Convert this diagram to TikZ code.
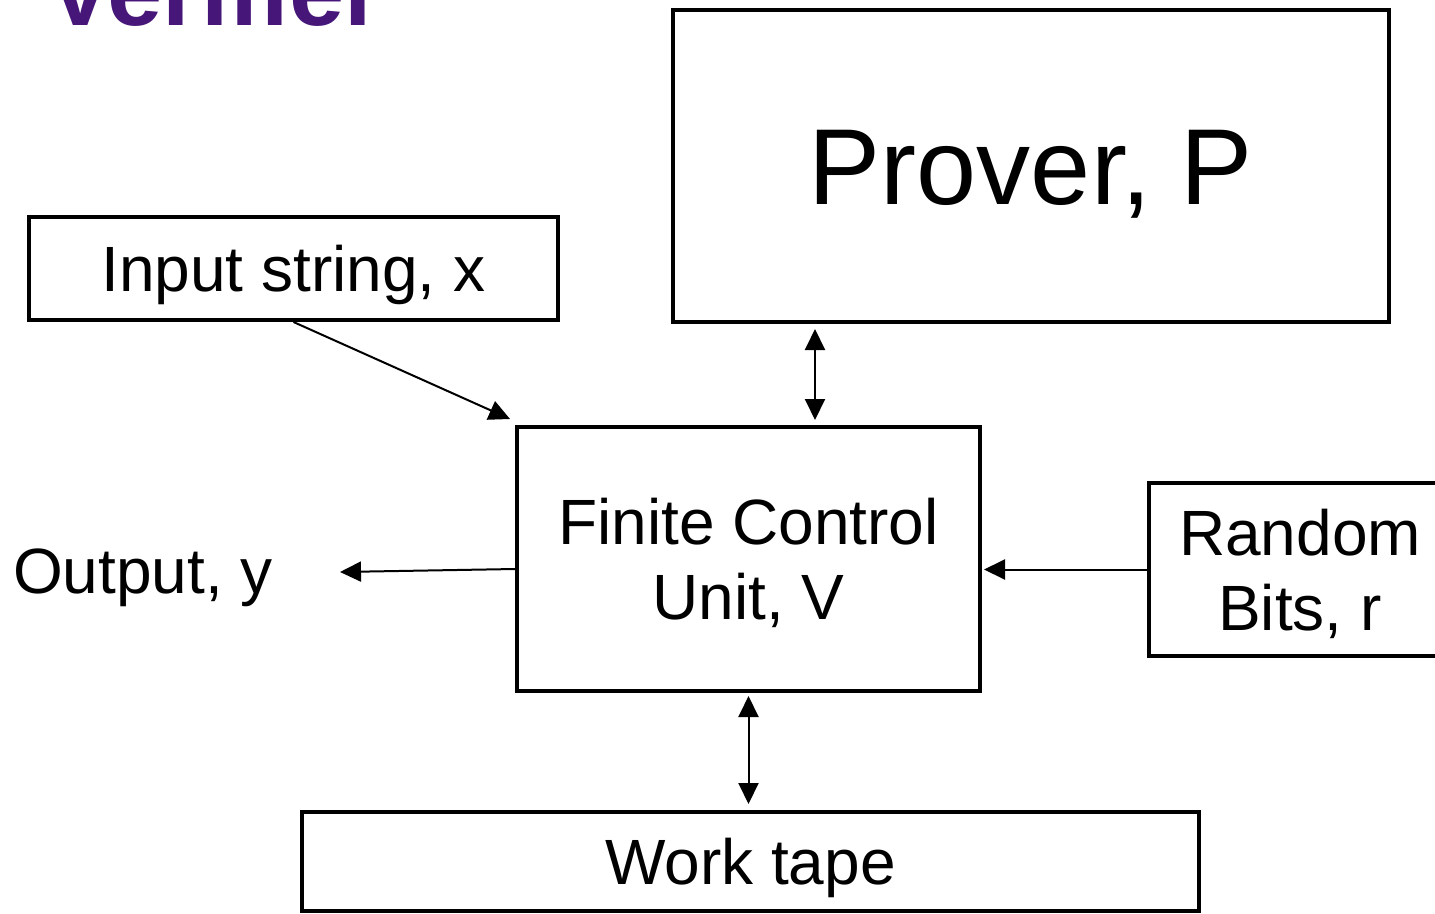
\documentclass[tikz,border=0pt]{standalone}
\usepackage{fontspec}
\setmainfont{Liberation Sans}
\usetikzlibrary{arrows.meta,calc}
\definecolor{titlepurple}{RGB}{70,22,120}
\begin{document}
\begin{tikzpicture}[x=1pt,y=-1pt,
  box/.style={draw,line width=4pt,inner sep=0pt,font=\fontsize{64pt}{75pt}\selectfont},
  oneline/.style={text height=46pt,text depth=0pt},
  twolines/.style={text height=46pt,text depth=75pt},
  link/.style={line width=2pt,-{Triangle[length=21pt,width=20pt]}},
  twoway/.style={line width=2pt,{Triangle[length=21pt,width=20pt]}-{Triangle[length=21pt,width=20pt]}}]
\useasboundingbox (0,0) rectangle (1435,913);
\clip (0,0) rectangle (1435,913);

% heading
\node[anchor=base west,inner sep=0pt,text=titlepurple,
      font=\fontsize{99pt}{105pt}\selectfont\bfseries] (title) at (47,25) {Verifier};

% boxes
\node[box,minimum width=716pt,minimum height=312pt,text height=77pt,text depth=0pt,
      font=\fontsize{108pt}{120pt}\selectfont] (prv) at (1031,166) {Prover, P};
\node[box,oneline,minimum width=529pt,minimum height=103pt] (inp) at (293.5,268.5) {Input string, x};
\node[box,twolines,minimum width=463pt,minimum height=264pt] (fcu) at (748.5,559)
  {\begin{tabular}[t]{@{}c@{}}Finite Control\\Unit, V\end{tabular}};
\node[box,twolines,minimum width=302pt,minimum height=173pt] (rnd) at (1300,569.5)
  {\begin{tabular}[t]{@{}c@{}}Random\\Bits, r\end{tabular}};
\node[box,oneline,minimum width=897pt,minimum height=99pt] (work) at (750.5,861.5) {Work tape};
\node[anchor=base west,inner sep=0pt,font=\fontsize{64pt}{75pt}\selectfont] (out) at (13,593) {Output, y};

% connectors
\coordinate (outtip) at (340,572);
\draw[link] (inp.south) -- ($(fcu.north west)+(-5,-6)$);
\draw[twoway,shorten <=5pt,shorten >=5pt] ([xshift=66.5pt]fcu.north) -- ([xshift=66.5pt]fcu.north |- prv.south);
\draw[twoway,shorten <=3pt,shorten >=6pt] (fcu.south) -- (fcu.south |- work.north);
\draw[link] ([yshift=-10pt]fcu.west) -- (outtip);
\draw[link,shorten >=2pt] (rnd.west) -- (rnd.west -| fcu.east);
\end{tikzpicture}
\end{document}
